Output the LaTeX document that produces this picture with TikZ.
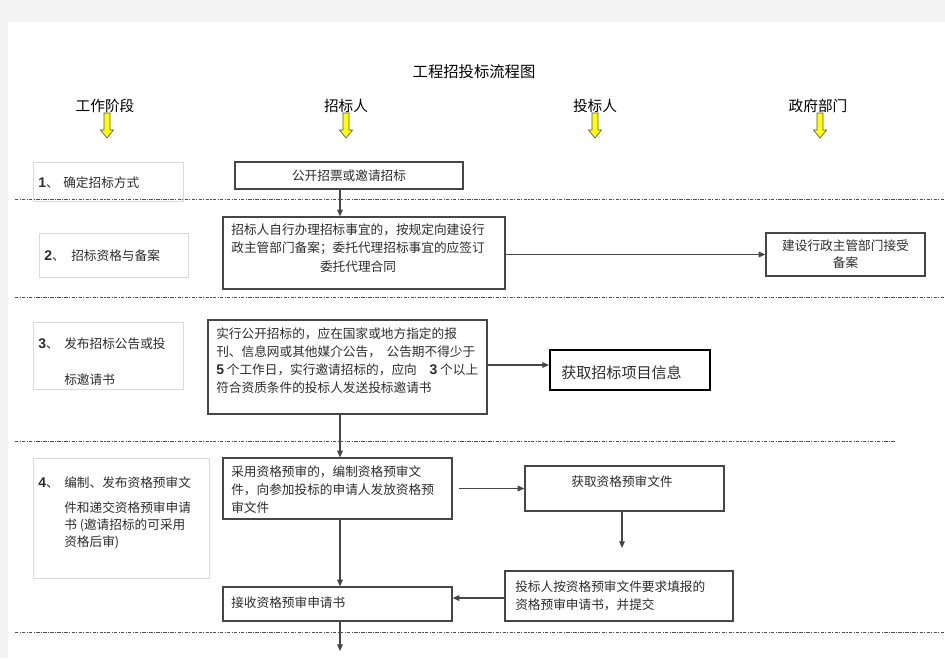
\documentclass[tikz,border=0pt]{standalone}
\usepackage{fontspec}
\setmainfont{Noto Sans CJK SC}
\newfontfamily\latn{Liberation Sans}
\usetikzlibrary{arrows.meta}
\newlength\pxu \setlength\pxu{0.75pt}
\definecolor{pagebg}{RGB}{243,243,243}
\definecolor{boxc}{RGB}{70,70,70}
\definecolor{stagec}{RGB}{218,218,218}
\definecolor{txtc}{RGB}{45,45,45}
\definecolor{sepc}{RGB}{80,80,80}
\definecolor{yarr}{RGB}{255,255,0}
\newcommand\myboxfont{\fontsize{9.5pt}{13.5pt}\selectfont}
\newcommand\myhdrfont{\fontsize{11pt}{13pt}\selectfont}
\newcommand\myttlfont{\fontsize{11.5pt}{13pt}\selectfont}
\newcommand\mybigfont{\fontsize{11.3pt}{13pt}\selectfont}
\newcommand\num[1]{{\latn\bfseries\fontsize{10.5pt}{12pt}\selectfont #1}}
\begin{document}
\begin{tikzpicture}[x=0.75pt,y=-0.75pt,
  lane/.style={draw=boxc, line width=0.9pt, inner sep=0pt, align=center, text=txtc, font=\myboxfont},
  stage/.style={draw=stagec, line width=0.6pt, inner sep=0pt},
  txt/.style={inner sep=0pt, align=left, anchor=west, text=txtc, font=\myboxfont},
  ctxt/.style={inner sep=0pt, align=center, text=txtc, font=\myboxfont},
  conn/.style={draw=boxc, line width=0.9pt, -{Triangle[length=5pt,width=4.2pt]}},
  sep/.style={draw=sepc, line width=0.7pt, dash pattern=on 2.5pt off 1pt on 0.8pt off 1pt},
  hdr/.style={inner sep=0pt, font=\myhdrfont},
  yarrow/.style={fill=yarr, draw=gray!70!black, line width=0.5pt}
]
\useasboundingbox (0,0) rectangle (945,658);
\fill[pagebg] (0,0) rectangle (945,658);
\fill[white] (8,22) rectangle (945,658);

% title and headers
\node[inner sep=0pt, font=\myttlfont] (title) at (474,72) {工程招投标流程图};
\node[hdr] (h1) at (105,106) {工作阶段};
\node[hdr] (h2) at (346,106) {招标人};
\node[hdr] (h3) at (595,106) {投标人};
\node[hdr] (h4) at (818,106) {政府部门};
\foreach \ax in {107,346,595,820}{
  \draw[yarrow] ({\ax-3},113) -- ({\ax+3},113) -- ({\ax+3},130) -- ({\ax+6.5},130)
     -- (\ax,138) -- ({\ax-6.5},130) -- ({\ax-3},130) -- cycle;
}

% separators
\draw[sep] (15,199) -- (945,199);
\draw[sep] (15,297) -- (945,297);
\draw[sep] (15,441) -- (895,441);
\draw[sep] (15,632) -- (945,632);

% stage boxes
\node[stage, minimum width=150\pxu, minimum height=39\pxu] (S1) at (108,181.5) {};
\node[stage, minimum width=149\pxu, minimum height=44\pxu] (S2) at (113.5,255) {};
\node[stage, minimum width=150\pxu, minimum height=67\pxu] (S3) at (108,355.5) {};
\node[stage, minimum width=176\pxu, minimum height=120\pxu] (S4) at (121,518) {};

\node[txt] (n1) at (38,183) {\num{1}、};
\node[txt] (s1) at (63,183) {确定招标方式};
\node[txt] (n2) at (44,256) {\num{2}、};
\node[txt] (s2) at (71,256) {招标资格与备案};
\node[txt] (n3) at (38,344) {\num{3}、};
\node[txt] (s3a) at (64,344) {发布招标公告或投};
\node[txt] (s3b) at (64,380) {标邀请书};
\node[txt] (n4) at (38,483) {\num{4}、};
\node[txt] (s4a) at (64,483) {编制、发布资格预审文};
\node[txt, font=\fontsize{9.5pt}{12.75pt}\selectfont] (s4b) at (64,525) {件和递交资格预审申请\\书 (邀请招标的可采用\\资格后审)};

% main boxes
\node[lane, minimum width=228\pxu, minimum height=27\pxu] (A) at (349,175.5) {公开招票或邀请招标};
\node[lane, minimum width=282\pxu, minimum height=72\pxu] (B) at (364,253) {};
\node[ctxt, font=\fontsize{9.5pt}{14pt}\selectfont] (Bt) at (358,248) {招标人自行办理招标事宜的，按规定向建设行\\政主管部门备案；委托代理招标事宜的应签订\\委托代理合同};
\node[lane, minimum width=159\pxu, minimum height=43\pxu, font=\fontsize{9.5pt}{12.75pt}\selectfont] (C) at (845.5,254.5) {建设行政主管部门接受\\备案};
\node[lane, minimum width=279\pxu, minimum height=94\pxu] (D) at (347.5,367) {};
\node[txt] (Dt) at (216,360.5) {实行公开招标的，应在国家或地方指定的报\\刊、信息网或其他媒介公告，\ \ 公告期不得少于\\\num{5} 个工作日，实行邀请招标的，应向\quad\num{3} 个以上\\符合资质条件的投标人发送投标邀请书};
\node[draw=black, line width=1.5pt, inner sep=0pt, minimum width=160\pxu, minimum height=40\pxu] (E) at (630,370) {};
\node[txt, font=\mybigfont] (Et) at (561,373) {获取招标项目信息};
\node[lane, minimum width=229\pxu, minimum height=61\pxu] (F) at (337.5,488.5) {};
\node[txt] (Ft) at (231,490) {采用资格预审的，编制资格预审文\\件，向参加投标的申请人发放资格预\\审文件};
\node[lane, minimum width=199\pxu, minimum height=45\pxu] (G) at (624.5,488.5) {};
\node[ctxt] (Gt) at (622,482) {获取资格预审文件};
\node[lane, minimum width=228\pxu, minimum height=50\pxu] (H) at (619,596) {};
\node[txt] (Ht) at (515,596) {投标人按资格预审文件要求填报的\\资格预审申请书，并提交};
\node[lane, minimum width=229\pxu, minimum height=34\pxu] (I) at (337.5,604) {};
\node[txt] (It) at (231,603) {接收资格预审申请书};

% connectors
\coordinate (sp) at (340,0);
\draw[conn] (A.south -| sp) -- (B.north -| sp);
\draw[conn] (B.east |- C.west) -- (C.west);
\coordinate (de) at (0,365);
\draw[conn] (D.east |- de) -- (E.west |- de);
\draw[conn] (D.south -| sp) -- (F.north -| sp);
\draw[conn] ([xshift=6\pxu]F.east) -- (G.west);
\coordinate (gh) at (622,548);
\draw[conn] (G.south -| gh) -- (gh);
\coordinate (hi) at (0,598);
\draw[conn] (H.west |- hi) -- (I.east |- hi);
\draw[conn] (F.south -| sp) -- (I.north -| sp);
\coordinate (iend) at (340,651);
\draw[conn] (I.south -| sp) -- (iend);
\end{tikzpicture}
\end{document}
